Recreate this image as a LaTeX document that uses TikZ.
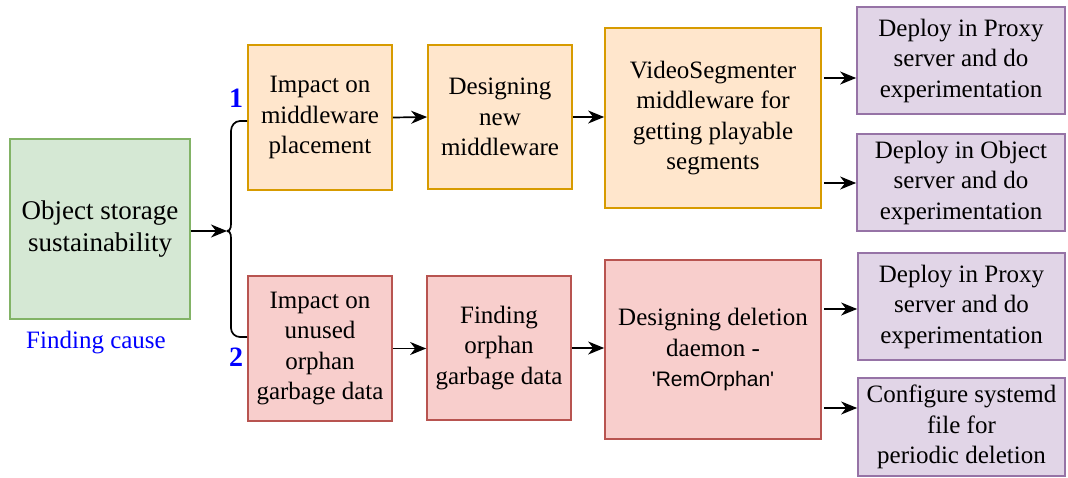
\documentclass[tikz,border=0pt]{standalone}
\usepackage{fontspec}
\setmainfont{Liberation Serif}
\newfontfamily\remfont[Ligatures=TeXOff]{Liberation Sans}
\usetikzlibrary{arrows.meta}
\usetikzlibrary{positioning}

\definecolor{gfill}{HTML}{D5E8D4}
\definecolor{gline}{HTML}{82B366}
\definecolor{ofill}{HTML}{FFE6CC}
\definecolor{oline}{HTML}{D79B00}
\definecolor{rfill}{HTML}{F8CECC}
\definecolor{rline}{HTML}{B85450}
\definecolor{pfill}{HTML}{E1D5E7}
\definecolor{pline}{HTML}{9673A6}

\begin{document}
\begin{tikzpicture}[x=1pt,y=-1pt,
	box/.style={draw,line width=1.7pt,align=center,inner sep=0pt,
		font=\fontsize{25}{30.5}\selectfont},
	grn/.style={box,fill=gfill,draw=gline,font=\fontsize{27}{31.5}\selectfont},
	org/.style={box,fill=ofill,draw=oline},
	red/.style={box,fill=rfill,draw=rline},
	prp/.style={box,fill=pfill,draw=pline},
	arr/.style={line width=1.7pt,-{Stealth[length=16pt,width=13pt,inset=5pt]}},
	num/.style={text=blue,font=\fontsize{28}{28}\selectfont\bfseries}]
	\useasboundingbox (0,0) rectangle (1068,477);
	\node[grn,minimum width=180pt,minimum height=180pt] (0) at (100,229) {Object storage\\sustainability};
	\node[text=blue,font=\fontsize{25}{25}\selectfont] (cause) at (96,343) {Finding cause};
	\node[org,minimum width=144pt,minimum height=145pt] (1) at (320,117.5) {Impact on\\middleware\\placement};
	\node[org,minimum width=144pt,minimum height=144pt] (2) at (500,117) {Designing\\new\\middleware};
	\node[org,minimum width=216pt,minimum height=180pt] (3) at (713,118) {VideoSegmenter\\middleware for\\getting playable\\segments};
	\node[prp,minimum width=208pt,minimum height=107pt] (4) at (961,60.5) {Deploy in Proxy\\server and do\\experimentation};
	\node[prp,minimum width=208pt,minimum height=97pt] (5) at (961,182.5) {Deploy in Object\\server and do\\experimentation};
	\node[red,minimum width=144pt,minimum height=145pt] (6) at (320,348.5) {Impact on\\unused\\orphan\\garbage data};
	\node[red,minimum width=144pt,minimum height=144pt] (7) at (499,348) {Finding\\orphan\\garbage data};
	\node[red,minimum width=216pt,minimum height=179pt] (8) at (713,349.5) {Designing deletion\\daemon -\\{\remfont\fontsize{21}{30.5}\selectfont 'RemOrphan'}};
	\node[prp,minimum width=207pt,minimum height=107pt] (9) at (961.5,306.5) {Deploy in Proxy\\server and do\\experimentation};
	\node[prp,minimum width=207pt,minimum height=98pt] (10) at (961.5,427) {Configure systemd\\file for\\periodic deletion};
	\node[num] (n1) at (236,98) {1};
	\node[num] (n2) at (236,357) {2};
	% brace
	\coordinate (br) at (227,231);
	\draw[arr] (0.east |- br) -- (br);
	\draw[line width=1.7pt] (br) to[out=0,in=-90] (231,220) -- (231,131)
		to[out=90,in=180] (240,121) -- ([yshift=-3.5pt]1.west);
	\draw[line width=1.7pt] (br) to[out=0,in=90] (231,242) -- (231,328)
		to[out=-90,in=180] (240,337) -- ([yshift=11.5pt]6.west);
	% arrows
	\draw[arr] (1.east) -- (2.west);
	\draw[arr] (2.east) -- (2.east -| 3.west);
	\draw[arr] ([xshift=2pt,yshift=40pt]3.east) -- ([yshift=40pt]3.east -| 4.west);
	\draw[arr] ([xshift=2pt,yshift=-65pt]3.east) -- ([yshift=-65pt]3.east -| 5.west);
	\draw[arr] (6.east) -- (6.east -| 7.west);
	\draw[arr] (7.east) -- (7.east -| 8.west);
	\draw[arr] ([xshift=2pt,yshift=40.5pt]8.east) -- ([yshift=40.5pt]8.east -| 9.west);
	\draw[arr] ([xshift=2pt,yshift=-58.5pt]8.east) -- ([yshift=-58.5pt]8.east -| 10.west);
\end{tikzpicture}
\end{document}
